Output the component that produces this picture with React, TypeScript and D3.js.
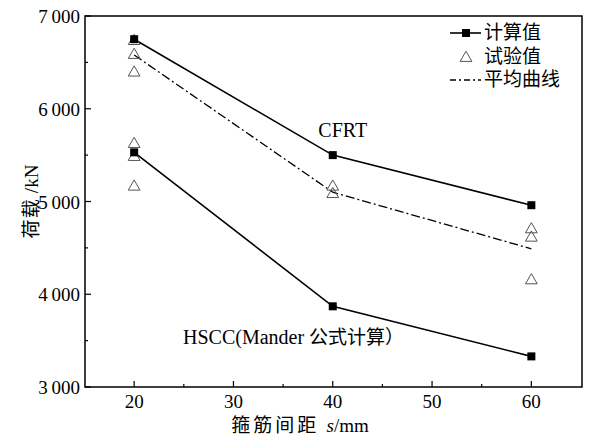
import React, { useEffect, useRef } from 'react';
import * as d3 from 'd3';

const spacing = [20, 40, 60];
const calcCFRT = [6750, 5500, 4960];
const calcHSCC = [5530, 3870, 3330];
const avgCurve = [6580, 5100, 4490];
const testPoints: [number, number][] = [
  [20, 6740], [20, 6590], [20, 6400], [20, 5630], [20, 5490], [20, 5170],
  [40, 5170], [40, 5090],
  [60, 4710], [60, 4620], [60, 4160],
];
const xTicks = [20, 30, 40, 50, 60];
const xMinor = [25, 35, 45, 55];
const yTicks = [3000, 4000, 5000, 6000, 7000];
const yMinor = [3500, 4500, 5500, 6500];
const legendLabels = ['计算值', '试验值', '平均曲线'];

const serif = '"Liberation Serif", "Times New Roman", serif';
const cjk = '"Noto Sans CJK SC", sans-serif';

const fmt = (v: number) => {
  const s = String(v);
  return s.length > 3 ? s.slice(0, s.length - 3) + ' ' + s.slice(-3) : s;
};

export default function App() {
  const ref = useRef<SVGSVGElement>(null);

  useEffect(() => {
    if (!ref.current) return;
    const svg = d3.select(ref.current);
    svg.selectAll('*').remove();

    const left = 85, right = 582, top = 16, bottom = 387;
    const x = d3.scaleLinear().domain([15.05, 65.1]).range([left, right]);
    const y = d3.scaleLinear().domain([3000, 7000]).range([bottom, top]);

    svg.append('rect').attr('width', 590).attr('height', 439).attr('fill', '#fff');

    // frame
    svg.append('rect')
      .attr('x', left).attr('y', top)
      .attr('width', right - left).attr('height', bottom - top)
      .attr('fill', 'none').attr('stroke', '#000').attr('stroke-width', 1.5);

    // ticks (inward)
    const tk = svg.append('g').attr('stroke', '#000').attr('stroke-width', 1.2);
    xTicks.forEach(t => tk.append('line').attr('x1', x(t)).attr('x2', x(t)).attr('y1', bottom).attr('y2', bottom - 6));
    xMinor.forEach(t => tk.append('line').attr('x1', x(t)).attr('x2', x(t)).attr('y1', bottom).attr('y2', bottom - 3));
    yTicks.forEach(t => tk.append('line').attr('x1', left).attr('x2', left + 6).attr('y1', y(t)).attr('y2', y(t)));
    yMinor.forEach(t => tk.append('line').attr('x1', left).attr('x2', left + 3).attr('y1', y(t)).attr('y2', y(t)));

    svg.append('g').selectAll('text').data(xTicks).enter().append('text')
      .attr('x', d => x(d)).attr('y', bottom + 21)
      .attr('text-anchor', 'middle')
      .attr('font-family', serif).attr('font-size', 19)
      .text(d => d);

    svg.append('g').selectAll('text').data(yTicks).enter().append('text')
      .attr('x', left - 5).attr('y', d => y(d) + 7)
      .attr('text-anchor', 'end')
      .attr('font-family', serif).attr('font-size', 19)
      .attr('word-spacing', -1)
      .text(d => fmt(d));

    // axis titles
    const yt = svg.append('text')
      .attr('transform', `translate(38,${(top + bottom) / 2}) rotate(-90)`)
      .attr('text-anchor', 'middle')
      .attr('font-size', 19);
    yt.append('tspan').attr('font-family', cjk).attr('letter-spacing', 1).text('荷载 ');
    yt.append('tspan').attr('font-family', serif).text('/kN');

    const xt = svg.append('text')
      .attr('x', 300).attr('y', 432)
      .attr('text-anchor', 'middle')
      .attr('font-size', 19);
    xt.append('tspan').attr('font-family', cjk).attr('letter-spacing', 3).text('箍筋间距 ');
    xt.append('tspan').attr('font-family', serif).attr('font-style', 'italic').text('s');
    xt.append('tspan').attr('font-family', serif).text('/mm');

    const line = d3.line<number>().x((_, i) => x(spacing[i])).y(d => y(d));

    // average curve
    svg.append('path').datum(avgCurve).attr('d', line)
      .attr('fill', 'none').attr('stroke', '#000').attr('stroke-width', 1.3)
      .attr('stroke-dasharray', '9,3,2,3');

    // calc lines
    [calcCFRT, calcHSCC].forEach(series => {
      svg.append('path').datum(series).attr('d', line)
        .attr('fill', 'none').attr('stroke', '#000').attr('stroke-width', 1.6);
    });

    // test points
    const tri = d3.symbol().type(d3.symbolTriangle).size(60);
    svg.append('g').selectAll('path').data(testPoints).enter().append('path')
      .attr('d', tri)
      .attr('transform', d => `translate(${x(d[0])},${y(d[1]) + 1})`)
      .attr('fill', 'none').attr('stroke', '#555').attr('stroke-width', 1);

    // squares
    [calcCFRT, calcHSCC].forEach(series => {
      svg.append('g').selectAll('rect').data(series).enter().append('rect')
        .attr('x', (_, i) => x(spacing[i]) - 4).attr('y', d => y(d) - 4)
        .attr('width', 8).attr('height', 8).attr('fill', '#000');
    });

    // annotations
    svg.append('text').attr('x', x(40) + 10).attr('y', y(5500) - 18)
      .attr('text-anchor', 'middle')
      .attr('font-family', serif).attr('font-size', 20).text('CFRT');

    const ha = svg.append('text').attr('x', 183).attr('y', 344).attr('font-size', 20);
    ha.append('tspan').attr('font-family', serif).text('HSCC(Mander ');
    ha.append('tspan').attr('font-family', cjk).attr('font-size', 19).text('公式计算）');

    // legend
    const lg = svg.append('g');
    const rows = [33, 57, 80];
    lg.append('line').attr('x1', 450).attr('x2', 481).attr('y1', rows[0]).attr('y2', rows[0])
      .attr('stroke', '#000').attr('stroke-width', 1.6);
    lg.append('rect').attr('x', 462).attr('y', rows[0] - 4).attr('width', 8).attr('height', 8).attr('fill', '#000');
    lg.append('path').attr('d', tri).attr('transform', `translate(466,${rows[1] + 1})`)
      .attr('fill', 'none').attr('stroke', '#555');
    lg.append('line').attr('x1', 450).attr('x2', 481).attr('y1', rows[2]).attr('y2', rows[2])
      .attr('stroke', '#000').attr('stroke-width', 1.3).attr('stroke-dasharray', '6,3,2,3');
    lg.selectAll('text.lab').data(legendLabels).enter().append('text')
      .attr('x', 484).attr('y', (_, i) => rows[i] + 6)
      .attr('font-family', cjk).attr('font-size', 19)
      .text(d => d);
  }, []);

  return (
    <div style={{ position: 'absolute', left: 0, top: 0 }}>
      <svg ref={ref} width={590} height={439} style={{ display: 'block' }} />
    </div>
  );
}
